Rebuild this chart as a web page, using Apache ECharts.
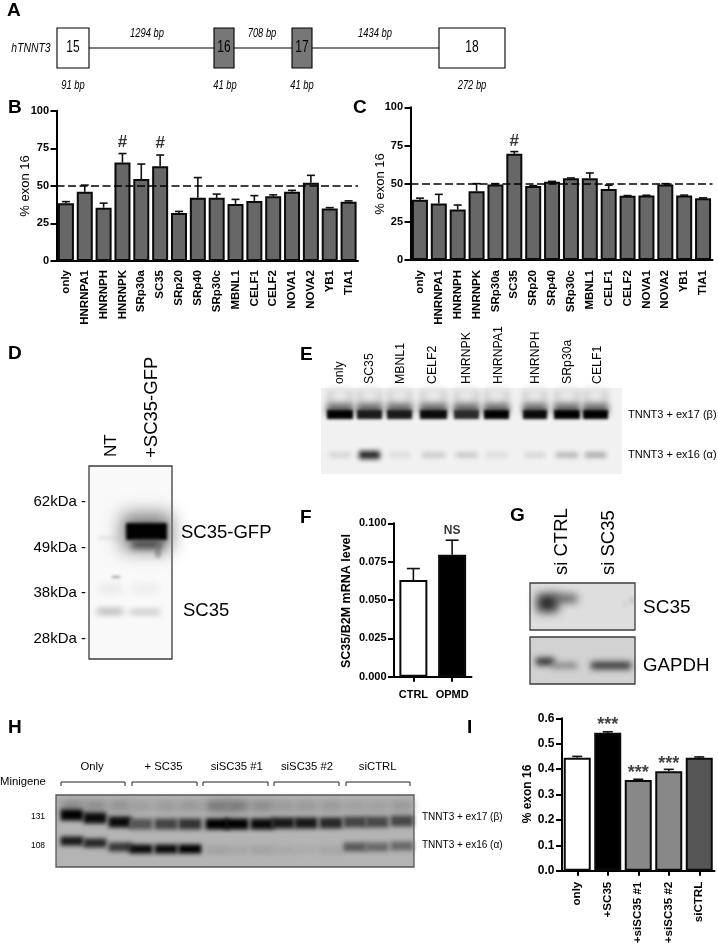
<!DOCTYPE html>
<html><head><meta charset="utf-8">
<style>html,body{margin:0;padding:0;background:#fff}#c{width:718px;height:944px}</style>
<script src="https://cdn.jsdelivr.net/npm/echarts@6/dist/echarts.min.js"></script>
</head><body><div id="c"></div>
<script>
// ---------- data ----------
const bCats=['only','HNRNPA1','HNRNPH','HNRNPK','SRp30a','SC35','SRp20','SRp40','SRp30c','MBNL1','CELF1','CELF2','NOVA1','NOVA2','YB1','TIA1'];
const bVals=[38.5,46,35.5,65.5,54.5,63,32,42,42,38,40,43,46,52,35,39.5];
const bUpper=[39.5,50.5,38.5,71.5,64.5,70.5,33,55.5,44.5,41,43.5,44,47,57,35.5,40];
const bMarks=[['HNRNPK',79,'#'],['SC35',78,'#']];
const cCats=['only','HNRNPA1','HNRNPH','HNRNPK','SRp30a','SC35','SRp20','SRp40','SRp30c','MBNL1','CELF1','CELF2','NOVA1','NOVA2','YB1','TIA1'];
const cVals=[39.5,37,33,45,49.5,69.5,48.5,51.3,53.5,53.5,46.5,42,42.2,49.5,42.3,40.5];
const cUpper=[40.5,43,36,50,50,71,48.7,51.5,53.7,57,49,42.2,42.4,50,42.5,40.7];
const cMarks=[['SC35',78,'#']];
const fCats=['CTRL','OPMD'];
const fVals=[0.063,0.0795];
const fUpper=[0.0705,0.089];
const fMarks=[['OPMD',0.0952,'NS']];
const iCats=['only','+SC35','+siSC35 #1','+siSC35 #2','siCTRL'];
const iVals=[0.445,0.543,0.357,0.392,0.445];
const iUpper=[0.45,0.547,0.36,0.399,0.448];
const iMarks=[['+SC35',0.574,'***'],['+siSC35 #1',0.385,'***'],['+siSC35 #2',0.42,'***']];
const iColors=['#ffffff','#000000','#888888','#888888','#555555'];
const eNames=['only','SC35','MBNL1','CELF2','HNRNPK','HNRNPA1','HNRNPH','SRp30a','CELF1'];
const eLabelX=[340,370,401,433,467,499,536,568,598];
const eLaneL=[327,357,387,420,454,484,523,554,583];
const eLaneR=[353,382,412,447,479,509,547,580,608];
const eBeta=['#000','#1a1a1a','#1a1a1a','#0a0a0a','#2a2a2a','#000','#0a0a0a','#000','#000'];
const eAlpha=['#cfcfcf','#222222','#d8d8d8','#c0c0c0','#bdbdbd','#d8d8d8','#d0d0d0','#a8a8a8','#989898'];
const hGroups=['Only','+ SC35','siSC35 #1','siSC35 #2','siCTRL'];
const hGroupX=[92,163.5,236.7,307,377.7];
const hBracketL=[61,132,203,274,346];
const hBracketR=[125,197,268,339,410];
const hLaneX=[72,95,120,141,166,190,217,237,262,283,306,331,355,377,402];
const hBetaY=[815,818,822,824,824,824,824,824,824,823,823,823,822,822,821];
const hBetaC=['#000','#0a0a0a','#0a0a0a','#555','#444','#333','#000','#000','#0a0a0a','#181818','#181818','#282828','#444','#484848','#484848'];
const hAlphaY=[841,843,847,849,849,849,850,850,850,850,850,850,847,847,846];
const hAlphaC=['#1a1a1a','#282828','#3a3a3a','#0a0a0a','#0a0a0a','#000','#a4a4a4','#a8a8a8','#a4a4a4','#aaaaaa','#adadad','#a8a8a8','#5a5a5a','#6a6a6a','#6a6a6a'];
const hSmear=['#808080','#868686','#8e8e8e','#9a9a9a','#969696','#939393','#6e6e6e','#6e6e6e','#848484','#949494','#949494','#949494','#9c9c9c','#9c9c9c','#949494'];

// ---------- blot drawing rows: [x,y,w,h,blur,colour,stroke] ; blur 0 = gel plate ----------
const rows=[];
const plate=(x,y,w,h,c,s)=>rows.push([x,y,w,h,0,c,s]);
const band=(x,y,w,h,b,c)=>rows.push([x,y,w,h,b,c]);
// D
plate(89,466,83,193,'#f9f9f9','#3c3c3c');
band(122,514,49,36,9,'#777');
band(126,523,41,17,1.5,'#000');
band(132,541,30,7,3,'#444');
band(156,544,4,13,2,'#777');
band(98,537,27,1.5,2,'#c4c4c4');
band(112,576,8,2,1.5,'#999');
band(100,586,22,6,4,'#e0e0e0');
band(132,586,26,5,4,'#e2e2e2');
band(97,609,26,5,3,'#a8a8a8');
band(130,610,30,4,3,'#b2b2b2');
// E
plate(321,388,301,86,'#f1f1f1',null);
eLaneL.forEach((l,i)=>{
  const w=eLaneR[i]-l;
  band(l,390,w,22,3,'#cccccc');
  band(l+5,388,w-10,15,4,'#ececec');
  band(l,404,w,10,3,'#666');
  band(l,410,w,9,1.5,eBeta[i]);
  const h=i===1?8:4.5;
  band(l+2,455-h/2,w-4,h,2.5,eAlpha[i]);
});
// G
plate(530,583,105,47,'#dedede','#3c3c3c');
band(537,594,21,18,5,'#2a2a2a');
band(555,595,22,7,4,'#444');
band(631,598,2,5,2,'#999');
band(624,603,3,3,2,'#bbb');
plate(530,637,105,47,'#d2d2d2','#3c3c3c');
band(536,658,18,7,3,'#222');
band(552,663,25,5,3,'#777');
band(591,662,40,7,3,'#2a2a2a');
// H
plate(56,795,358,72,'#b4b4b4','#555');
hLaneX.forEach((x,i)=>{
  band(x-11,801,22,10,4,hSmear[i]);
  band(x-11.5,hBetaY[i]-5.5,23,11,2,hBetaC[i]);
  band(x-11.5,hAlphaY[i]-4.5,23,9,2,hAlphaC[i]);
});

function renderBlot(params,api){
  const r=rows[params.dataIndex];
  const p=api.coord([r[0],r[1]]), q=api.coord([r[0]+r[2],r[1]+r[3]]);
  const sh={x:p[0],y:p[1],width:q[0]-p[0],height:q[1]-p[1]};
  if(r[4]===0) return {type:'rect',shape:sh,style:{fill:r[5],stroke:r[6]||null,lineWidth:1.3},silent:true};
  const off=3000;
  return {type:'rect',shape:{x:sh.x-off,y:sh.y,width:sh.width,height:sh.height},
    style:{fill:'#000',shadowColor:r[5],shadowBlur:r[4]*2,shadowOffsetX:off},silent:true};
}

// ---------- text + diagram ----------
const FF='"Liberation Sans",Arial,sans-serif';
const g=[];
function T(text,x,y,o={}){
  g.push({type:'text',x,y,rotation:o.rot?Math.PI/2:0,scaleX:o.sx||1,z:10,silent:true,
    style:{text,fill:o.color||'#000',fontFamily:FF,fontSize:o.size||12,fontWeight:o.bold?'bold':'normal',
      fontStyle:o.italic?'italic':'normal',align:o.align||'center',verticalAlign:'middle'}});
}
const letters=[['A',7,11],['B',8,108],['C',353,108],['D',8,354],['E',300,355],['F',300,518],['G',510,516],['H',8,728],['I',467,728]];
letters.forEach(l=>T(l[0],l[1],l[2],{size:19,bold:true,align:'left'}));
// A
g.push({type:'line',z:5,silent:true,shape:{x1:89,y1:48,x2:439,y2:48},style:{stroke:'#000',lineWidth:1.2}});
[[57,32,'#fff','15'],[214,20,'#777','16'],[292,20,'#777','17'],[439,66,'#fff','18']].forEach(b=>{
  g.push({type:'rect',z:6,silent:true,shape:{x:b[0],y:28,width:b[1],height:40},style:{fill:b[2],stroke:'#000',lineWidth:1.1}});
  T(b[3],b[0]+b[1]/2,48,{size:16,sx:0.75});
});
T('hTNNT3',31,48,{size:13,italic:true,sx:0.8});
[['1294 bp',147,33],['708 bp',262,33],['1434 bp',375,33],['91 bp',73,85],['41 bp',225,85],['41 bp',302,85],['272 bp',472,85]]
  .forEach(t=>T(t[0],t[1],t[2],{size:13,italic:true,sx:0.72}));
// y names that sit by the hand-placed axes
T('% exon 16',25,186,{size:13,rot:true});
T('% exon 16',380,184,{size:13,rot:true});
T('SC35/B2M mRNA level',347,601,{size:12.5,bold:true,rot:true});
T('% exon 16',528,794,{size:12,bold:true,rot:true});
// D
T('NT',111,457,{size:17,rot:true,align:'left'});
T('+SC35-GFP',151.7,458,{size:18.5,rot:true,align:'left'});
[['62kDa -',502],['49kDa -',547.5],['38kDa -',593],['28kDa -',638.5]].forEach(t=>T(t[0],86,t[1],{size:15,align:'right'}));
T('SC35-GFP',181,533,{size:18.5,align:'left'});
T('SC35',183,611,{size:18.5,align:'left'});
// E
eNames.forEach((n,i)=>T(n,eLabelX[i],384,{size:12.3,rot:true,align:'left'}));
T('TNNT3 + ex17 (β)',628,415,{size:11,align:'left'});
T('TNNT3 + ex16 (α)',628,455,{size:11,align:'left'});
// G
T('si CTRL',562,575,{size:18.5,rot:true,align:'left'});
T('si SC35',609,575,{size:18.5,rot:true,align:'left'});
T('SC35',643,608,{size:19,align:'left'});
T('GAPDH',643,666,{size:18.7,align:'left'});
// H
hGroups.forEach((n,i)=>{
  T(n,hGroupX[i],767,{size:11.3});
  g.push({type:'polyline',z:6,silent:true,shape:{points:[[hBracketL[i],786],[hBracketL[i],782],[hBracketR[i],782],[hBracketR[i],786]]},style:{fill:'none',stroke:'#222',lineWidth:1}});
});
T('Minigene',0,782,{size:11.3,align:'left'});
T('131',38,817,{size:8.5});
T('108',38,846,{size:8.5});
T('TNNT3 + ex17 (β)',422,817,{size:10,align:'left'});
T('TNNT3 + ex16 (α)',422,845,{size:10,align:'left'});

// ---------- charts ----------
const grids=[
 {left:56.5,top:110.7,width:301.5,height:150.3,outerBoundsMode:'none'},
 {left:410.5,top:107.3,width:302,height:152.7,outerBoundsMode:'none'},
 {left:394,top:523.3,width:77.5,height:153.4,outerBoundsMode:'none'},
 {left:562,top:718.3,width:152.5,height:152.4,outerBoundsMode:'none'},
 {left:0,top:0,width:718,height:944,outerBoundsMode:'none'}
];
const al={lineStyle:{color:'#000',width:2}};
const xa=(i,cats,o={})=>({type:'category',gridIndex:i,data:cats,axisLine:al,
  axisTick:{show:!!o.tick,alignWithLabel:true,length:5,lineStyle:{width:2,color:'#000'}},
  axisLabel:{rotate:o.rot===0?0:90,interval:0,margin:o.margin,fontFamily:FF,fontWeight:'bold',fontSize:o.size,color:'#000'}});
const ya=(i,max,step,fmt,size)=>({type:'value',gridIndex:i,min:0,max,interval:step,splitLine:{show:false},
  axisLine:{show:true,lineStyle:{color:'#000',width:2}},axisTick:{show:true,length:6,lineStyle:{color:'#000',width:2}},
  axisLabel:{margin:7.5,fontFamily:FF,fontWeight:'bold',fontSize:size,color:'#000',formatter:fmt}});

function panel(i,cats,vals,upper,marks,o){
  const out=[{type:'bar',xAxisIndex:i,yAxisIndex:i,barWidth:o.bw,silent:true,z:3,
    data:vals.map((v,k)=>({value:v,itemStyle:{color:o.colors?o.colors[k]:o.color,borderColor:'#0a0a0a',borderWidth:o.bd}})),
    markLine:o.dash?{silent:true,symbol:'none',label:{show:false},animation:false,
      lineStyle:{color:'#000',type:[8,3.5],width:1.6},data:[{yAxis:o.dash}]}:undefined},
   {type:'custom',xAxisIndex:i,yAxisIndex:i,silent:true,z:2,clip:false,
    data:vals.map((v,k)=>[k,v,upper[k]]),
    encode:{x:0,y:[1,2]},
    renderItem:(p,api)=>{
      const a=api.coord([api.value(0),api.value(1)]),b=api.coord([api.value(0),api.value(2)]);
      const s={stroke:'#111',lineWidth:1.6};
      return {type:'group',children:[
        {type:'line',shape:{x1:a[0],y1:a[1],x2:b[0],y2:b[1]},style:s},
        {type:'line',shape:{x1:b[0]-o.cap,y1:b[1],x2:b[0]+o.cap,y2:b[1]},style:s}]};
    }},
   {type:'scatter',xAxisIndex:i,yAxisIndex:i,symbolSize:1,silent:true,z:4,itemStyle:{color:'transparent'},
    data:marks.map(m=>({value:[m[0],m[1]],label:{show:true,formatter:m[2]}})),
    label:{show:true,position:'inside',fontFamily:FF,fontWeight:'bold',fontSize:o.ms,color:o.mc||'#000',textBorderWidth:0}}];
  return out;
}

const option={
  animation:false,backgroundColor:'#fff',
  grid:grids,
  xAxis:[xa(0,bCats,{margin:9,size:11.5}),xa(1,cCats,{margin:10,size:11.5}),
         xa(2,fCats,{rot:0,tick:true,margin:13,size:11}),xa(3,iCats,{tick:true,margin:11,size:11.6}),
         {type:'value',gridIndex:4,min:0,max:718,show:false}],
  yAxis:[ya(0,100,25,null,11),ya(1,100,25,null,11),
         ya(2,0.1,0.025,v=>v.toFixed(3),11),ya(3,0.6,0.1,v=>v.toFixed(1),12),
         {type:'value',gridIndex:4,min:0,max:944,inverse:true,show:false}],
  graphic:{elements:g},
  series:[
    {type:'custom',xAxisIndex:4,yAxisIndex:4,data:rows.map(r=>[r[0],r[1]]),encode:{x:0,y:1},renderItem:renderBlot,silent:true,z:1,clip:false},
    ...panel(0,bCats,bVals,bUpper,bMarks,{bw:16,bd:2,cap:4,dash:50,color:'#676767',ms:17}),
    ...panel(1,cCats,cVals,cUpper,cMarks,{bw:16,bd:2,cap:4,dash:50,color:'#676767',ms:17}),
    ...panel(2,fCats,fVals,fUpper,fMarks,{bw:28,bd:2,cap:6.5,colors:['#fff','#000'],ms:12}),
    ...panel(3,iCats,iVals,iUpper,iMarks,{bw:27,bd:2,cap:5,colors:iColors,ms:18,mc:'#111'})
  ]
};
echarts.init(document.getElementById('c'),null,{renderer:'canvas'}).setOption(option);
</script></body></html>
